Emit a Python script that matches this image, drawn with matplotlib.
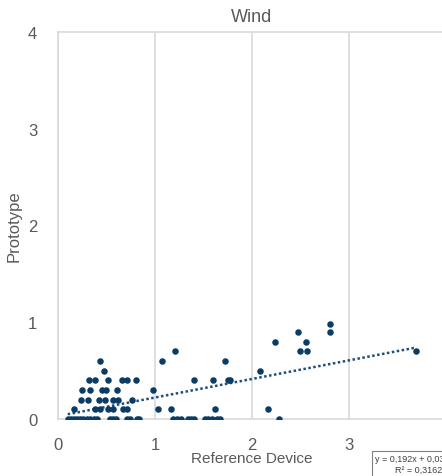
import matplotlib
matplotlib.use("Agg")
import matplotlib.pyplot as plt
import numpy as np

plt.rcParams['font.family'] = ['Liberation Sans', 'DejaVu Sans']

# Paired readings grouped by prototype value
ref_y00 = [0.10, 0.13, 0.16, 0.20, 0.23, 0.26, 0.30, 0.33, 0.37, 0.40,
           0.54, 0.57, 0.60, 0.71, 0.74, 0.81, 0.84, 1.19, 1.23, 1.27,
           1.34, 1.37, 1.40, 1.52, 1.55, 1.59, 1.64, 1.67, 2.28]
ref_y01 = [0.16, 0.38, 0.43, 0.52, 0.57, 0.67, 0.71, 1.03, 1.16, 1.62, 2.17]
ref_y02 = [0.24, 0.31, 0.42, 0.48, 0.57, 0.62, 0.76]
ref_y03 = [0.25, 0.33, 0.45, 0.49, 0.61, 0.98]
ref_y04 = [0.32, 0.38, 0.52, 0.66, 0.71, 0.80, 1.40, 1.60, 1.75, 1.77]
ref_y05 = [0.47, 2.08]
ref_y06 = [0.43, 1.07, 1.72]
ref_y07 = [1.21, 2.49, 2.57, 3.69]
ref_y08 = [2.24, 2.56]
ref_y09 = [2.47, 2.80]
ref_y10 = [2.80]

groups = [(ref_y00, 0.0), (ref_y01, 0.1), (ref_y02, 0.2), (ref_y03, 0.3),
          (ref_y04, 0.4), (ref_y05, 0.5), (ref_y06, 0.6), (ref_y07, 0.7),
          (ref_y08, 0.8), (ref_y09, 0.9), (ref_y10, 0.98)]

reference = np.concatenate([np.array(g, float) for g, _ in groups])
prototype = np.concatenate([np.full(len(g), v) for g, v in groups])

# Linear trend as reported
slope = 0.192
intercept = 0.03
r_squared = 0.3162

W, H = 442, 477
fig = plt.figure(figsize=(W / 100, H / 100), dpi=100)
ax = fig.add_axes([58 / W, (H - 420) / H, 388 / W, 387 / H])

grey = '#595959'
grid_c = '#d9d9d9'
dot_c = '#0b3d64'

ax.scatter(reference, prototype, s=22, color=dot_c, zorder=3, linewidths=0)

xt = np.linspace(reference.min(), reference.max(), 50)
ax.plot(xt, slope * xt + intercept, linestyle=(0, (1, 1)), color='#1f4e79',
        linewidth=1.8, zorder=2)

ax.set_xlim(0, 4)
ax.set_ylim(0, 4)
ax.set_xticks([0, 1, 2, 3, 4])
ax.set_yticks([0, 1, 2, 3, 4])
ax.xaxis.grid(True, color=grid_c, linewidth=1.2)
ax.yaxis.grid(False)
ax.axhline(4, color=grid_c, linewidth=1.2, clip_on=False)
for s in ['top', 'right']:
    ax.spines[s].set_visible(False)
for s in ['left', 'bottom']:
    ax.spines[s].set_color(grid_c)
    ax.spines[s].set_linewidth(1.2)
ax.tick_params(length=0, colors=grey, labelsize=12)
ax.tick_params(axis='x', pad=13)
ax.tick_params(axis='y', pad=15)

fig.text(252 / W, 1 - 17 / H, 'Wind', color=grey, fontsize=13,
         ha='center', va='center')
ax.set_xlabel('Reference Device', color=grey, fontsize=11)
ax.xaxis.set_label_coords(0.5, -(452 - 420) / 387)
ax.xaxis.label.set_va('top')
ax.set_ylabel('Prototype', color=grey, fontsize=12)
ax.yaxis.set_label_coords(-(58 - 14) / 388, 0.5)
ax.yaxis.label.set_va('center')

fig.text(375 / W, (H - 465) / H,
         'y = 0,192x + 0,0318\n        R² = 0,3162', fontsize=6.5, color='#404040',
         va='center', ha='left', linespacing=1.3,
         bbox=dict(boxstyle='square,pad=0.35', facecolor='white',
                   edgecolor='#808080', linewidth=0.8))

fig.savefig('out.png', dpi=100)
